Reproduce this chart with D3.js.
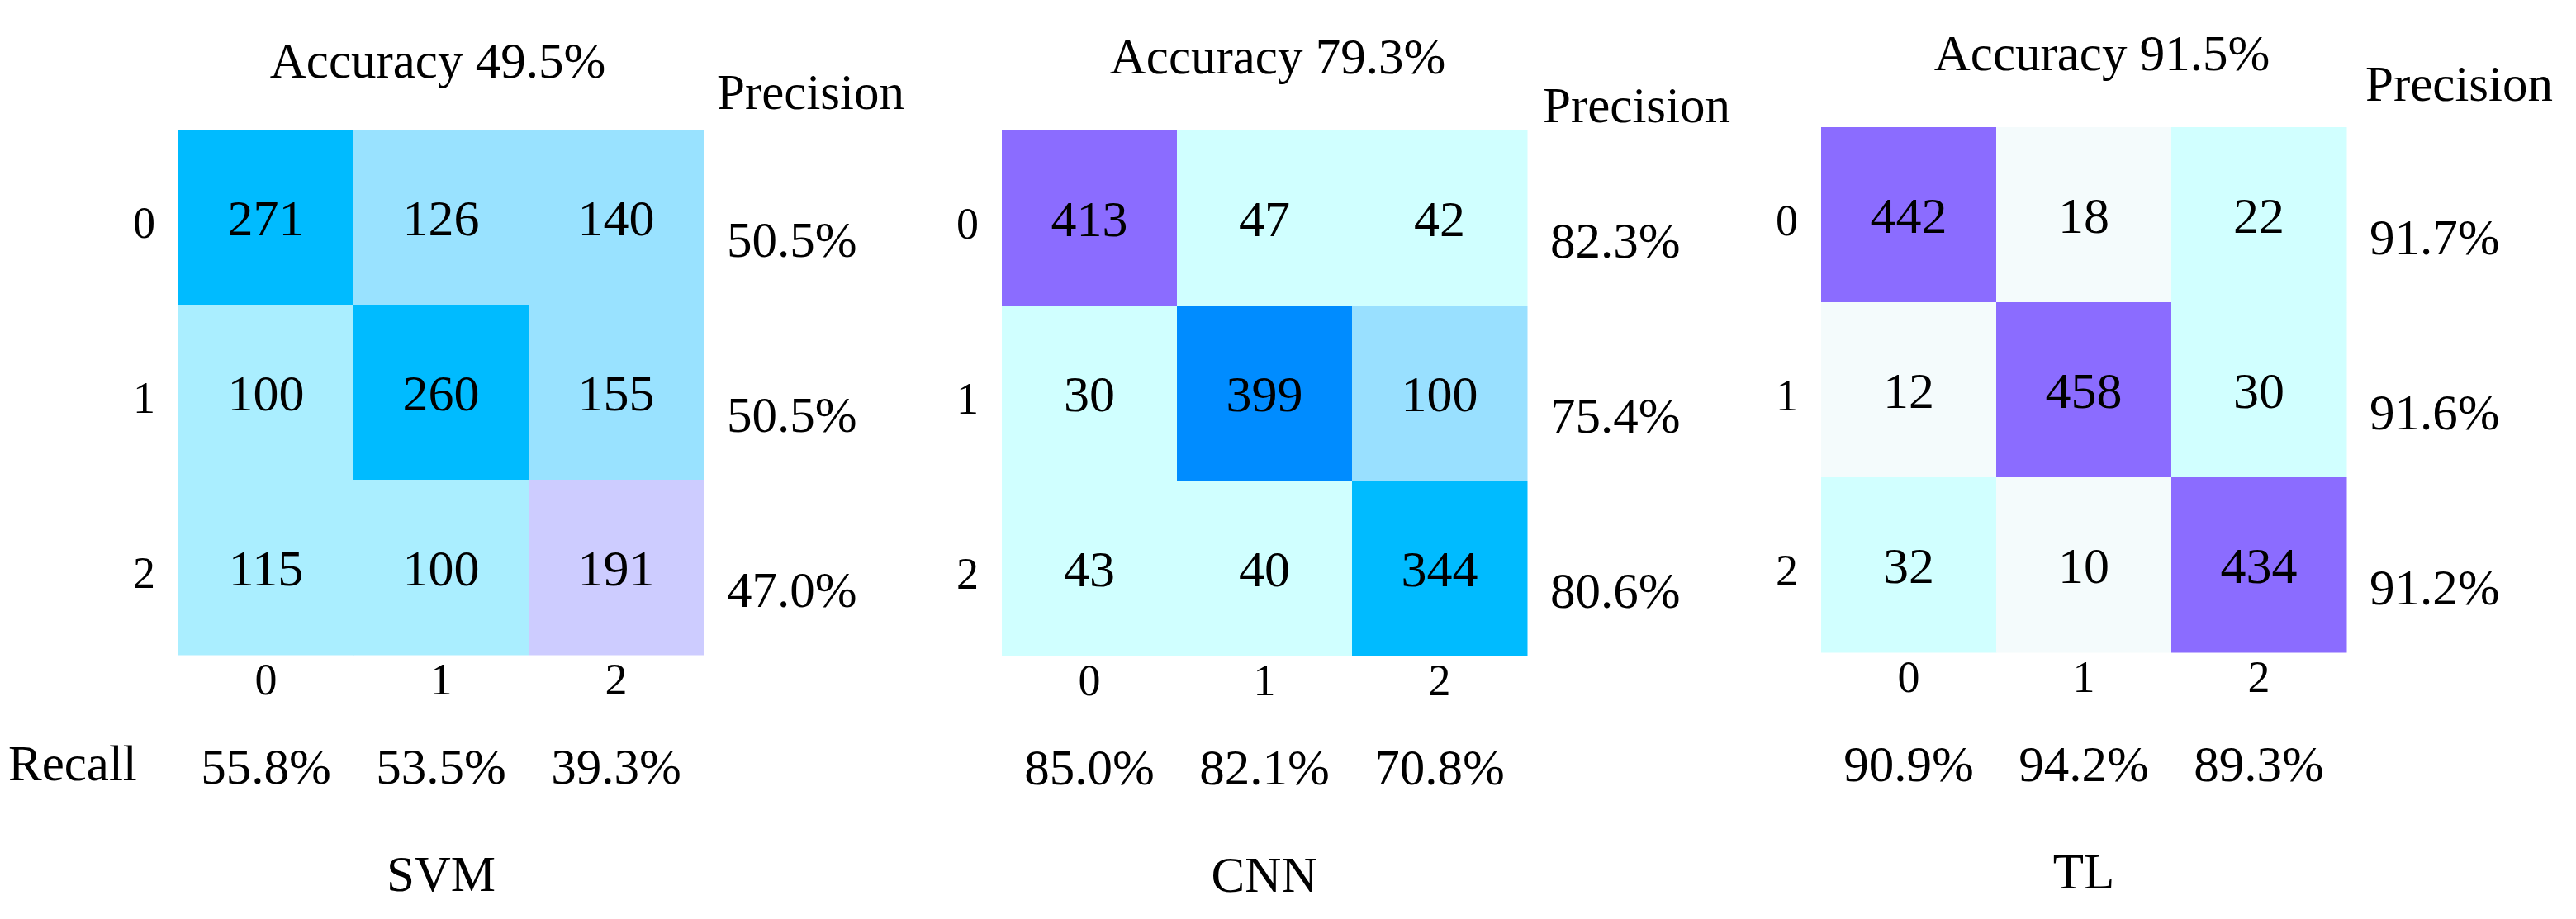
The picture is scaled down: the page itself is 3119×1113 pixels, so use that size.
<!DOCTYPE html>
<html>
<head>
<meta charset="utf-8">
<script src="https://cdn.jsdelivr.net/npm/d3@7"></script>
<style>
  html, body { margin: 0; padding: 0; background: #ffffff; }
  svg { display: block; }
  svg text { font-family: "Liberation Serif", "Times New Roman", serif !important; fill: #000; }
</style>
</head>
<body>
<script>
// ---------------- data ----------------
const classes = ["0", "1", "2"];
const models = ["SVM", "CNN", "TL"];
const accuracyLabels = ["Accuracy 49.5%", "Accuracy 79.3%", "Accuracy 91.5%"];

const svmMatrix = [[271, 126, 140], [100, 260, 155], [115, 100, 191]];
const cnnMatrix = [[413, 47, 42], [30, 399, 100], [43, 40, 344]];
const tlMatrix  = [[442, 18, 22], [12, 458, 30], [32, 10, 434]];

const svmPrecision = ["50.5%", "50.5%", "47.0%"];
const cnnPrecision = ["82.3%", "75.4%", "80.6%"];
const tlPrecision  = ["91.7%", "91.6%", "91.2%"];

const svmRecall = ["55.8%", "53.5%", "39.3%"];
const cnnRecall = ["85.0%", "82.1%", "70.8%"];
const tlRecall  = ["90.9%", "94.2%", "89.3%"];

// ---------------- colour steps (per panel) ----------------
const svmThresholds = [120, 170, 230];
const svmColors = ["#aaeeff", "#99e2ff", "#cdccff", "#00bbff"];
const cnnThresholds = [70, 200, 370, 405];
const cnnColors = ["#d0ffff", "#99e0ff", "#00bbff", "#008cff", "#8b6cff"];
const tlThresholds = [20, 200];
const tlColors = ["#f4fbfc", "#d1ffff", "#8b6cff"];

// ---------------- layout ----------------
const W = 3119, H = 1113;
const FONT = "'Liberation Serif', 'Times New Roman', serif";
const panels = [
  { name: models[0], m: svmMatrix, prec: svmPrecision, rec: svmRecall, acc: accuracyLabels[0],
    th: svmThresholds, col: svmColors,
    x0: 216, y0: 157, accX: 530, accY: 94, precHX: 868, precHY: 132 },
  { name: models[1], m: cnnMatrix, prec: cnnPrecision, rec: cnnRecall, acc: accuracyLabels[1],
    th: cnnThresholds, col: cnnColors,
    x0: 1213, y0: 158, accX: 1547, accY: 89, precHX: 1868, precHY: 148 },
  { name: models[2], m: tlMatrix, prec: tlPrecision, rec: tlRecall, acc: accuracyLabels[2],
    th: tlThresholds, col: tlColors,
    x0: 2205, y0: 154, accX: 2545, accY: 85, precHX: 2864, precHY: 122 }
];
const size = 636;
const textSize = 61, cellSize = 62, tickSize = 54;

const svg = d3.select("body").append("svg")
  .attr("width", W).attr("height", H)
  .attr("viewBox", `0 0 ${W} ${H}`)
  .attr("font-family", FONT);

svg.append("rect").attr("width", W).attr("height", H).attr("fill", "#fff");

panels.forEach((p, pi) => {
  const x = d3.scaleBand().domain(classes).range([p.x0, p.x0 + size]);
  const y = d3.scaleBand().domain(classes).range([p.y0, p.y0 + size]);
  const color = d3.scaleThreshold().domain(p.th).range(p.col);

  const g = svg.append("g").attr("font-family", FONT);

  const cells = [];
  p.m.forEach((row, r) => row.forEach((v, c) => cells.push({ r: classes[r], c: classes[c], v })));

  g.selectAll("rect.cell").data(cells).join("rect")
    .attr("class", "cell")
    .attr("x", d => x(d.c))
    .attr("y", d => y(d.r))
    .attr("width", x.bandwidth() + 0.5)
    .attr("height", y.bandwidth() + 0.5)
    .attr("fill", d => color(d.v));

  g.selectAll("text.val").data(cells).join("text")
    .attr("class", "val")
    .attr("x", d => x(d.c) + x.bandwidth() / 2)
    .attr("y", d => y(d.r) + y.bandwidth() / 2)
    .attr("dy", "0.35em")
    .attr("text-anchor", "middle")
    .attr("font-family", FONT)
    .style("font-size", cellSize + "px")
    .text(d => d.v);

  // row axis (true class)
  const left = g.append("g")
    .attr("transform", `translate(${p.x0},0)`)
    .call(d3.axisLeft(y).tickSize(0).tickPadding(28));
  left.attr("font-family", FONT);
  left.select(".domain").remove();
  left.selectAll("text")
    .attr("dy", "0.47em")
    .attr("font-family", FONT)
    .style("font-size", tickSize + "px")
    .attr("fill", "#000");

  // column axis (predicted class)
  const bottom = g.append("g")
    .attr("transform", `translate(0,${p.y0 + size})`)
    .call(d3.axisBottom(x).tickSize(0).tickPadding(10));
  bottom.attr("font-family", FONT);
  bottom.select(".domain").remove();
  bottom.selectAll("text")
    .attr("font-family", FONT)
    .style("font-size", tickSize + "px")
    .attr("fill", "#000");

  // accuracy title
  g.append("text")
    .attr("x", p.accX).attr("y", p.accY)
    .attr("text-anchor", "middle")
    .style("font-size", textSize + "px")
    .text(p.acc);

  // precision header & values
  g.append("text")
    .attr("x", p.precHX).attr("y", p.precHY)
    .style("font-size", textSize + "px")
    .text("Precision");

  g.selectAll("text.prec").data(p.prec).join("text")
    .attr("class", "prec")
    .attr("x", p.x0 + size + 28)
    .attr("y", (d, i) => y(classes[i]) + y.bandwidth() / 2 + 48)
    .style("font-size", textSize + "px")
    .text(d => d);

  // recall values
  g.selectAll("text.rec").data(p.rec).join("text")
    .attr("class", "rec")
    .attr("x", (d, i) => x(classes[i]) + x.bandwidth() / 2)
    .attr("y", p.y0 + 792)
    .attr("text-anchor", "middle")
    .style("font-size", textSize + "px")
    .text(d => d);

  if (pi === 0) {
    g.append("text")
      .attr("x", 10).attr("y", p.y0 + 788)
      .style("font-size", textSize + "px")
      .text("Recall");
  }

  // model name
  g.append("text")
    .attr("x", p.x0 + size / 2).attr("y", p.y0 + 922)
    .attr("text-anchor", "middle")
    .style("font-size", textSize + "px")
    .text(p.name);
});
</script>
</body>
</html>
